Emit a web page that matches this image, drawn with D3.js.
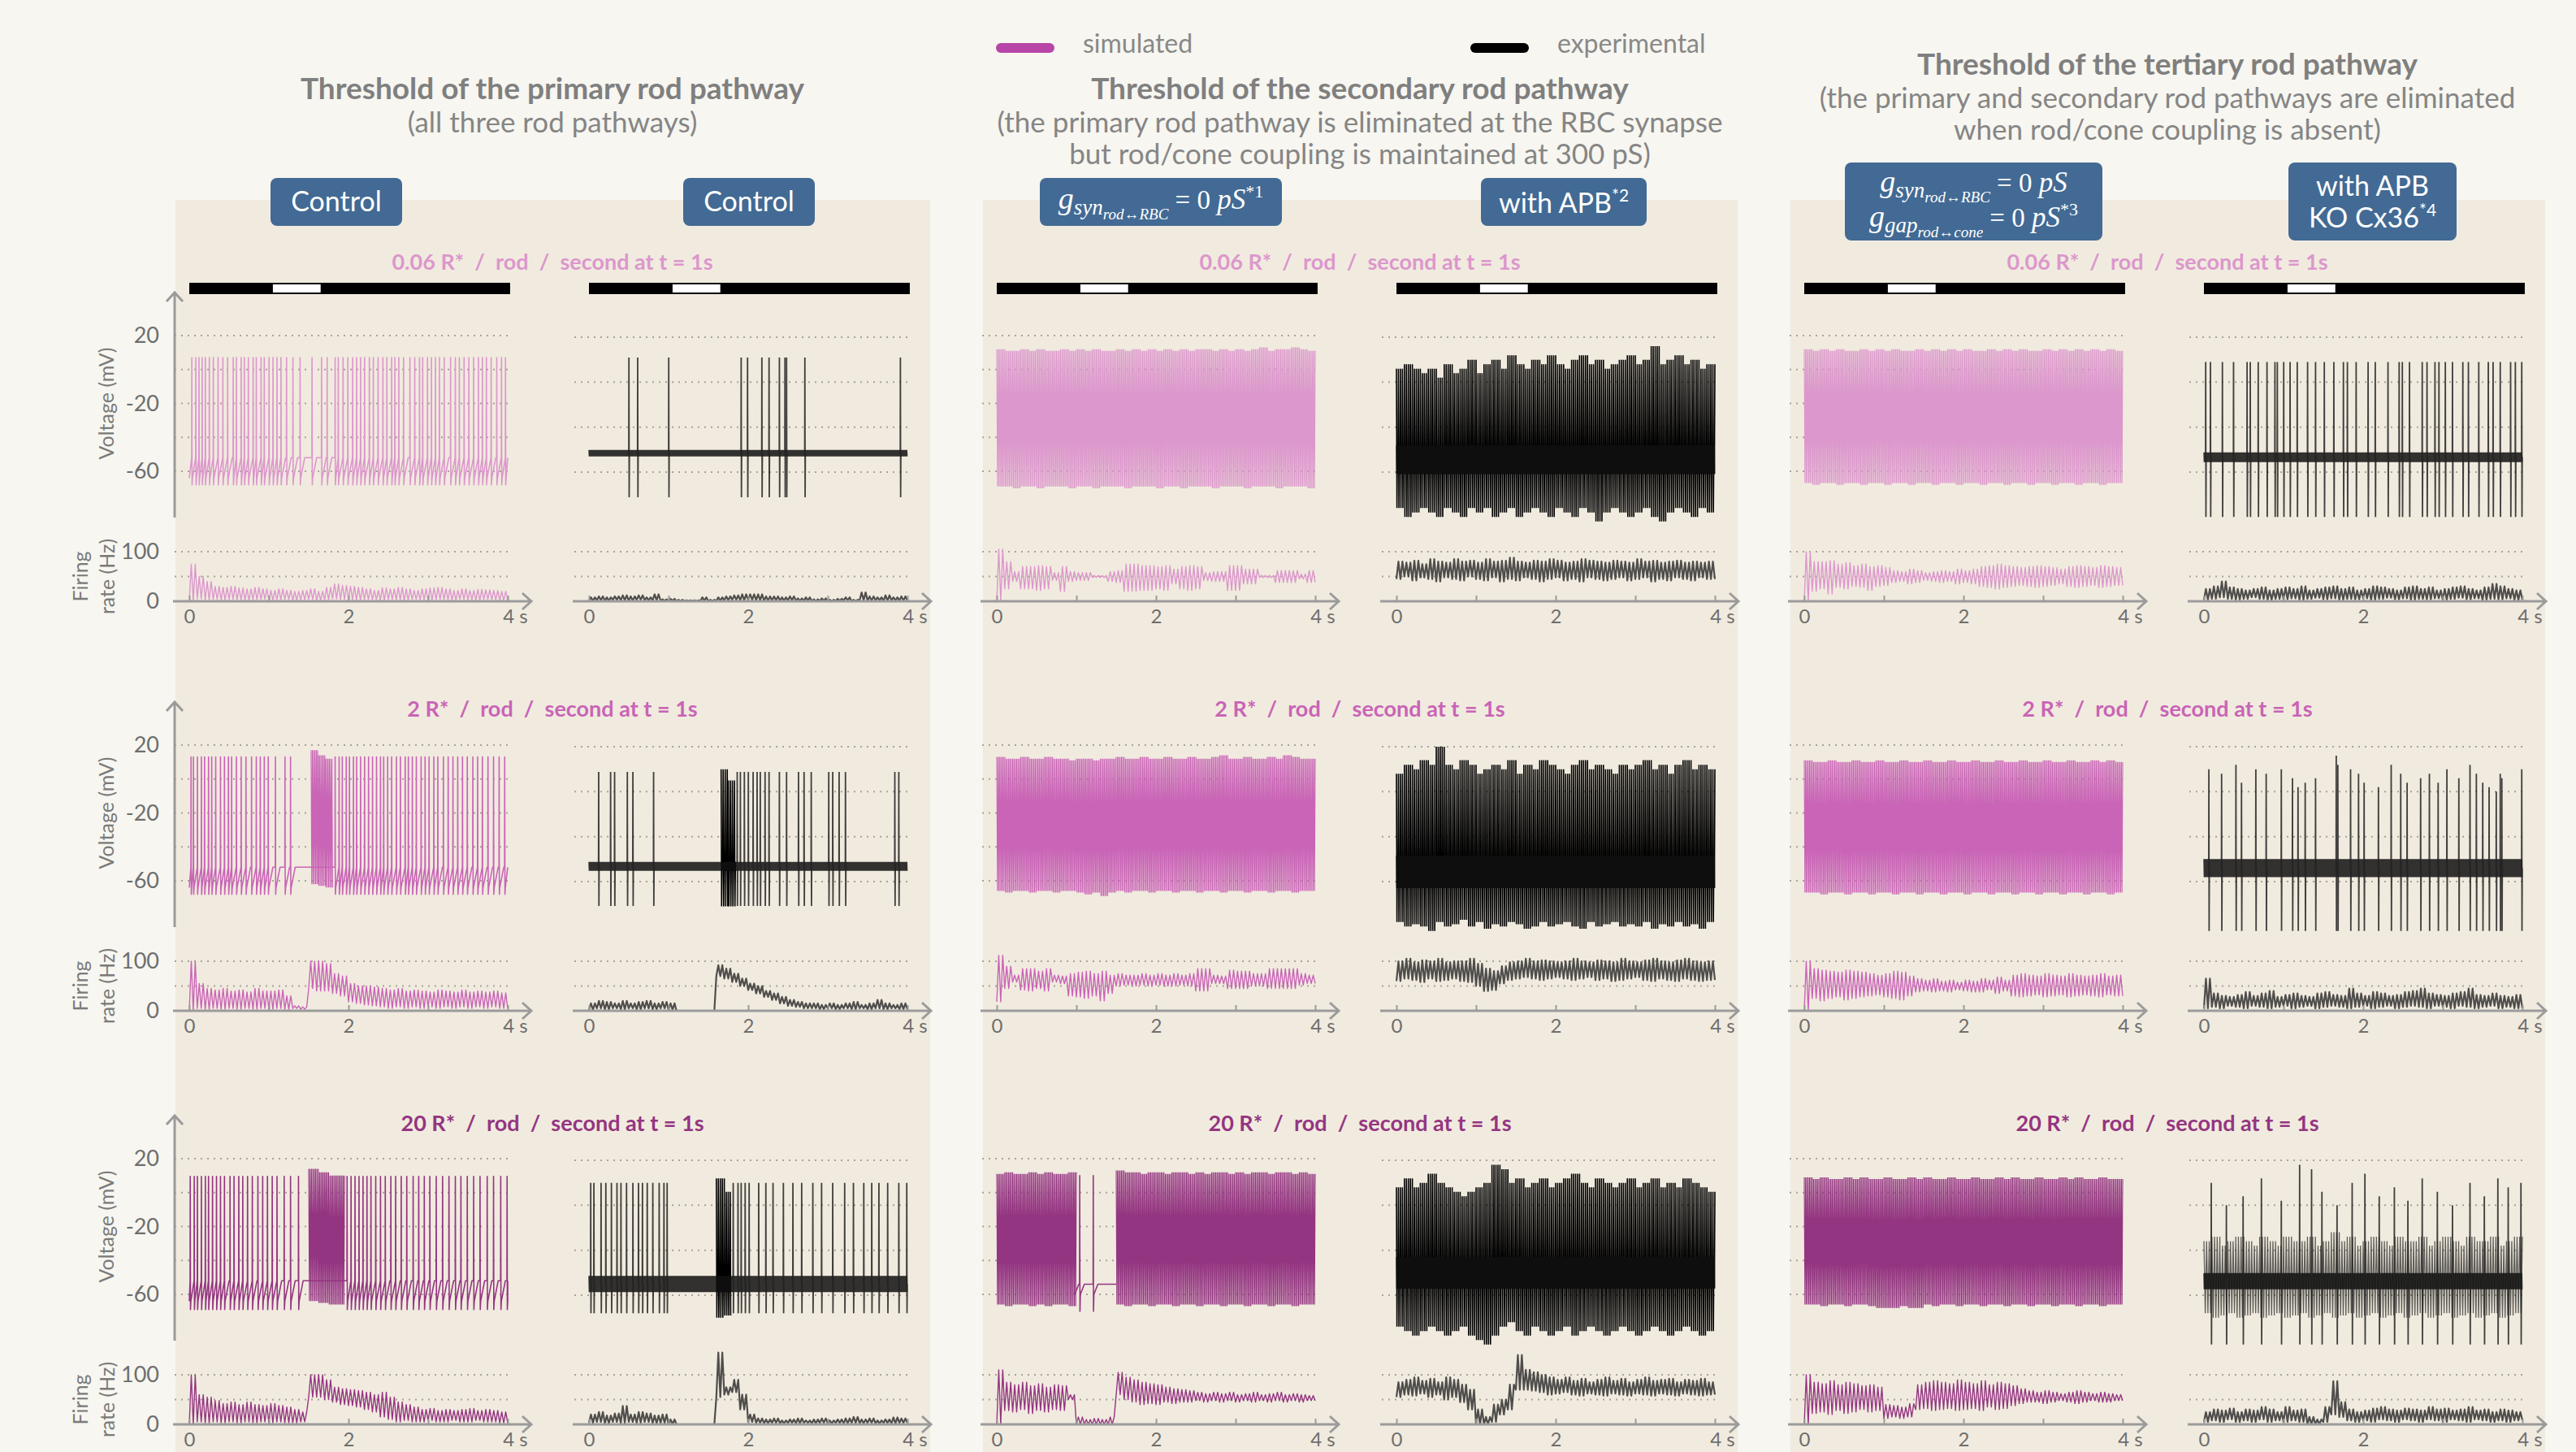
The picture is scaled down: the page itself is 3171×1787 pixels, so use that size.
<!DOCTYPE html>
<html>
<head>
<meta charset="utf-8">
<script src="https://cdn.jsdelivr.net/npm/d3@7"></script>
<style>
  body { margin: 0; background: #f7f6f0; }
  text { font-family: Lato, 'Open Sans', sans-serif; }
</style>
</head>
<body>
<svg id="chart"></svg>
<script>
(function () {
    'use strict';

    const width = 3171;
    const height = 1787;

    // ---------- data ----------
    const titles = ['Threshold of the primary rod pathway', 'Threshold of the secondary rod pathway', 'Threshold of the tertiary rod pathway'];
    const subtitles = [
        ['(all three rod pathways)'],
        ['(the primary rod pathway is eliminated at the RBC synapse', 'but rod/cone coupling is maintained at 300 pS)'],
        ['(the primary and secondary rod pathways are eliminated', 'when rod/cone coupling is absent)']
    ];
    const legendLabels = ['simulated', 'experimental'];
    const rowLabels = ['0.06 R*  /  rod  /  second at t = 1s', '2 R*  /  rod  /  second at t = 1s', '20 R*  /  rod  /  second at t = 1s'];
    const stimulus = [1.05, 1.65];
    const timeTicks = [0, 1, 2, 3, 4];
    const voltTicks = [20, -20, -60];
    const simGrid = [20, 0, -20, -40, -60];
    const expGrid = [3, 2, 1, 0];
    const rateGrid = [100, 50];
    const rateTicks = [100, 0];
    const binStart = d3.range(40).map(i => i / 10);

    // levels: sim = [peak, trough, rest, threshold] (mV); exp = [peak, trough, coreLo, coreHi] (recording units)
    // ---- 0.06 R*/rod/s ----
    const c1r1SimSpikes = [0.03,0.08,0.12,0.16,0.20,0.25,0.30,0.36,0.42,0.48,0.55,0.59,0.65,0.69,0.74,0.80,0.84,0.90,0.94,1.00,1.05,1.10,1.15,1.22,1.30,1.39,1.54,1.66,1.73,1.83,1.87,1.93,1.99,2.05,2.10,2.15,2.20,2.26,2.31,2.37,2.43,2.48,2.54,2.58,2.63,2.69,2.77,2.83,2.89,2.93,2.99,3.04,3.09,3.14,3.20,3.28,3.34,3.39,3.45,3.51,3.57,3.63,3.68,3.73,3.79,3.86,3.92,3.97];
    const c1r1SimLevels = [7, -68, -64, -52];
    const c1r1SimRateHi = [75,50,40,30,28,30,27,25,28,25, 22,25,22,20,22,25,20,28,35,32, 30,28,25,22,27,25,28,25,22,25, 27,28,25,22,25,22,24,23,22,20];
    const c1r1SimRateLo = [0,5,3,4,2,4,3,2,3,4, 2,3,4,2,3,4,2,3,5,4, 3,2,4,3,2,4,3,2,4,3, 2,4,3,2,4,3,2,4,3,2];
    const c1r1ExpSpikes = [0.50,0.61,1.00,1.91,1.99,2.17,2.26,2.39,2.46,2.48,2.71,3.91];
    const c1r1ExpLevels = [2.55, -0.56, 0.35, 0.49];
    const c1r1ExpRateHi = [8,10,8,10,12,10,12,8,14,4, 5,3,2,2,8,3,8,10,12,14, 14,14,10,10,8,10,6,8,4,6, 3,5,8,3,18,10,8,12,8,10];
    const c1r1ExpRateLo = [1,2,1,3,2,1,3,2,2,1, 1,0,0,0,1,0,1,2,3,2, 3,2,1,2,1,2,1,1,0,1, 0,1,2,0,2,1,2,1,2,1];

    const c2r1SimHi = [12,11,11,12,11,12,11,11,12,11, 12,11,12,11,11,12,11,12,11,12, 11,12,11,12,11,12,12,11,12,11, 12,11,12,13,11,12,12,13,12,11];
    const c2r1SimLo = [-69,-69,-70,-69,-69,-70,-69,-69,-69,-70, -69,-69,-70,-69,-69,-69,-70,-69,-69,-69, -70,-69,-69,-70,-69,-69,-69,-70,-69,-69, -69,-70,-69,-69,-69,-70,-69,-69,-69,-70];
    const c2r1SimRateHi = [105,80,60,70,70,72,70,58,70,60, 58,58,52,52,60,62,75,75,72,72, 70,72,65,70,72,70,58,60,60,72, 72,65,65,52,52,62,62,62,55,62];
    const c2r1SimRateLo = [0,25,40,25,25,22,25,42,20,40, 42,42,48,48,40,38,20,20,22,22, 25,22,35,25,22,25,42,40,40,22, 22,35,35,48,48,38,38,38,45,38];
    const c2r1ExpHi = [2.3,2.4,2.3,2.2,2.3,2.1,2.4,2.2,2.3,2.5, 2.2,2.4,2.5,2.3,2.6,2.4,2.3,2.5,2.4,2.6, 2.4,2.3,2.5,2.6,2.4,2.5,2.3,2.4,2.5,2.6, 2.4,2.5,2.8,2.4,2.5,2.6,2.4,2.5,2.3,2.4];
    const c2r1ExpLo = [-0.8,-1.0,-0.9,-0.8,-0.9,-1.0,-0.8,-0.9,-1.0,-0.8, -0.9,-0.8,-1.0,-0.9,-0.8,-1.0,-0.9,-0.8,-0.9,-1.0, -0.8,-0.9,-1.0,-0.8,-0.9,-1.1,-0.9,-0.8,-0.9,-1.0, -0.9,-0.8,-1.0,-1.1,-0.9,-0.8,-0.9,-1.0,-0.8,-0.9];
    const c2r1ExpLevels = [2.4, -0.9, -0.04, 0.6];
    const c2r1ExpRateHi = [80,78,82,75,85,80,78,85,80,82, 78,85,80,82,88,80,78,82,80,85, 82,78,80,85,82,80,78,82,80,78, 85,80,82,78,80,82,78,80,78,80];
    const c2r1ExpRateLo = [45,50,42,48,45,40,48,45,42,50, 45,42,48,40,45,42,48,45,40,45, 48,42,45,40,48,45,42,45,48,42, 45,48,40,45,42,48,45,42,48,45];

    const c3r1SimHi = [12,11,12,11,12,11,11,12,11,12, 11,12,11,11,12,11,12,11,12,11, 12,11,11,12,11,12,11,12,11,11, 12,11,12,11,12,11,12,11,12,11];
    const c3r1SimLo = [-67,-68,-67,-67,-68,-67,-67,-68,-67,-67, -68,-67,-67,-68,-67,-67,-68,-67,-67,-68, -67,-67,-68,-67,-67,-68,-67,-67,-68,-67, -67,-68,-67,-67,-68,-67,-67,-68,-67,-67];
    const c3r1SimRateHi = [100,80,80,82,75,78,72,75,70,72, 68,62,60,65,62,58,60,62,60,65, 62,65,70,72,75,72,70,68,70,72, 70,68,65,70,72,70,68,72,70,68];
    const c3r1SimRateLo = [0,20,25,15,28,25,30,28,22,30, 32,38,40,35,38,42,40,38,40,35, 38,35,30,28,25,28,30,32,30,28, 30,32,35,30,28,30,32,28,30,32];
    const c3r1ExpSpikes = [0.02,0.08,0.23,0.37,0.54,0.58,0.68,0.79,0.89,0.92,1.00,1.08,1.17,1.30,1.40,1.51,1.63,1.75,1.80,1.91,2.06,2.15,2.31,2.45,2.49,2.58,2.74,2.80,2.90,2.95,3.03,3.12,3.25,3.32,3.45,3.57,3.63,3.72,3.85,3.91,3.99];
    const c3r1ExpLevels = [2.45, -1.0, 0.22, 0.44];
    const c3r1ExpRateHi = [25,30,40,28,25,22,25,28,22,25, 28,25,30,22,25,28,30,25,28,22, 25,30,28,25,22,28,30,25,28,22, 25,28,30,25,22,28,35,30,25,22];
    const c3r1ExpRateLo = [3,5,8,5,3,5,8,5,3,5, 4,6,3,5,7,4,6,3,5,4, 6,3,5,7,4,6,3,5,4,6, 3,5,7,4,6,3,5,4,6,3];

    // ---- 2 R*/rod/s ----
    const c1r2SimSpikes = [0.02,0.05,0.10,0.15,0.19,0.24,0.28,0.33,0.39,0.44,0.49,0.53,0.59,0.65,0.71,0.78,0.84,0.89,0.94,0.99,1.08,1.20,1.27,1.83,1.88,1.92,1.97,2.01,2.06,2.10,2.15,2.20,2.25,2.30,2.35,2.40,2.44,2.49,2.54,2.60,2.65,2.71,2.75,2.80,2.85,2.91,2.96,3.01,3.07,3.12,3.19,3.25,3.31,3.37,3.43,3.49,3.56,3.62,3.68,3.75,3.82,3.89,3.96];
    const c1r2SimBurst = [[1.53, 1.62, 17, -62], [1.62, 1.71, 14, -63], [1.71, 1.80, 12, -64]];
    const c1r2SimLevels = [13, -68, -64, -52];
    const c1r2SimRateHi = [100,55,45,42,45,40,42,38,45,40, 40,42,30,10,8,100,100,95,75,70, 55,50,50,48,45,42,45,40,42,40, 38,42,40,38,42,38,40,38,40,36];
    const c1r2SimRateLo = [0,5,3,5,3,5,3,5,3,5, 3,5,3,5,3,45,40,40,35,30, 18,15,12,10,8,5,8,5,8,5, 8,5,8,5,8,5,8,5,8,5];
    const c1r2ExpSpikes = [0.12,0.27,0.32,0.48,0.55,0.81,1.86,1.90,1.95,2.00,2.06,2.11,2.15,2.21,2.26,2.39,2.48,2.63,2.70,2.79,3.01,3.06,3.14,3.22,3.84,3.89];
    const c1r2ExpBurst = [[1.66, 1.75, 2.5, -0.55], [1.75, 1.84, 2.25, -0.55]];
    const c1r2ExpLevels = [2.44, -0.54, 0.24, 0.44];
    const c1r2ExpRateHi = [15,20,18,15,20,15,18,20,15,18, 15,0,0,0,0,0,92,85,75,65, 55,50,40,35,28,22,18,15,15,12, 15,12,15,18,12,15,22,15,12,15];
    const c1r2ExpRateLo = [2,5,3,5,3,5,3,5,3,5, 2,0,0,0,0,0,70,65,58,50, 42,35,28,22,15,10,8,5,5,3, 5,3,5,3,5,3,5,3,5,3];

    const c2r2SimHi = [13,12,12,13,12,12,13,12,12,11, 12,12,11,12,12,13,12,12,13,12, 12,13,12,12,13,12,12,13,14,12, 12,13,12,12,13,12,14,13,12,12];
    const c2r2SimLo = [-66,-67,-66,-66,-67,-66,-66,-67,-66,-66, -67,-68,-67,-69,-67,-66,-67,-66,-66,-67, -66,-66,-67,-66,-66,-67,-66,-66,-67,-66, -66,-67,-66,-66,-67,-66,-66,-67,-66,-66];
    const c2r2SimRateHi = [112,90,72,85,85,80,85,72,70,75, 78,80,75,80,72,75,72,72,75,72, 75,72,75,72,75,85,85,72,70,82, 80,80,75,75,85,85,85,85,75,72];
    const c2r2SimRateLo = [18,45,58,42,40,45,40,58,55,30, 28,25,30,20,35,50,52,50,52,50, 52,50,50,52,50,40,40,55,55,45, 45,45,50,50,45,45,45,45,52,55];
    const c2r2ExpHi = [2.4,2.6,2.5,2.7,2.6,3.0,2.6,2.5,2.7,2.6, 2.4,2.5,2.6,2.5,2.7,2.4,2.6,2.5,2.7,2.6, 2.5,2.4,2.6,2.7,2.5,2.6,2.5,2.4,2.6,2.5, 2.6,2.7,2.5,2.6,2.4,2.6,2.7,2.5,2.6,2.5];
    const c2r2ExpLo = [-0.9,-1.0,-0.95,-1.0,-1.1,-0.9,-1.0,-0.95,-0.85,-1.0, -0.9,-1.05,-0.95,-1.0,-0.9,-0.95,-1.05,-1.0,-0.9,-1.0, -0.95,-0.9,-1.0,-1.05,-0.9,-1.0,-0.95,-0.9,-1.0,-0.95, -1.0,-0.9,-1.05,-0.95,-1.0,-0.9,-1.0,-0.95,-1.05,-0.9];
    const c2r2ExpLevels = [2.5, -1.0, -0.14, 0.58];
    const c2r2ExpRateHi = [100,105,98,102,100,105,98,100,100,105, 95,85,80,90,98,100,105,100,102,100, 98,100,105,100,98,102,100,98,105,100, 98,102,105,100,98,102,105,100,98,100];
    const c2r2ExpRateLo = [60,65,62,58,65,60,62,65,60,58, 50,40,42,55,62,65,68,65,62,65, 68,65,62,65,68,62,65,60,62,65, 68,62,60,65,62,60,65,62,60,62];

    const c3r2SimHi = [11,10,10,11,10,10,11,10,10,11, 10,10,11,10,10,11,10,10,11,10, 10,11,10,10,11,10,10,11,10,10, 11,10,10,11,10,10,11,10,11,10];
    const c3r2SimLo = [-67,-67,-68,-67,-67,-68,-67,-67,-68,-67, -67,-68,-67,-67,-68,-67,-67,-68,-67,-67, -68,-67,-67,-68,-67,-67,-68,-67,-67,-68, -67,-67,-68,-67,-67,-68,-67,-67,-68,-67];
    const c3r2SimRateHi = [100,85,82,80,78,82,80,78,75,72, 75,80,78,70,65,62,65,60,62,58, 62,60,65,62,68,62,72,75,72,70, 75,72,70,75,72,70,72,75,70,72];
    const c3r2SimRateLo = [0,25,20,25,28,22,25,28,30,32, 28,25,22,30,38,40,38,40,38,42, 40,38,38,42,35,40,30,28,30,32, 28,30,32,28,30,32,30,28,32,30];
    const c3r2ExpSpikes = [0.06,0.22,0.40,0.47,0.65,0.78,0.97,1.11,1.18,1.27,1.40,1.66,1.68,1.84,1.94,2.01,2.19,2.35,2.47,2.55,2.72,2.83,2.94,3.05,3.20,3.34,3.42,3.50,3.58,3.67,3.72,3.74,3.99];
    const c3r2ExpPeaks = [2.5,2.4,2.6,2.2,2.5,2.4,2.5,2.3,2.1,2.2,2.3,2.8,2.6,2.5,2.4,2.2,2.1,2.6,2.4,2.2,2.3,2.4,2.2,2.5,2.3,2.6,2.4,2.2,2.1,2.0,2.4,2.3,2.5];
    const c3r2ExpLevels = [2.4, -1.1, 0.1, 0.5];
    const c3r2ExpRateHi = [65,35,30,28,32,38,30,35,40,28, 32,35,30,28,35,38,32,30,45,35, 30,38,35,30,32,38,40,45,35,32, 30,35,38,45,32,30,35,30,28,32];
    const c3r2ExpRateLo = [5,8,5,10,8,5,10,8,5,8, 10,5,8,10,5,8,10,8,5,8, 10,5,8,10,5,8,10,8,5,10, 8,5,10,8,5,8,10,5,8,5];

    // ---- 20 R*/rod/s ----
    const c1r3SimSpikes = [0.01,0.06,0.10,0.15,0.20,0.24,0.29,0.34,0.39,0.44,0.51,0.56,0.62,0.67,0.73,0.79,0.86,0.92,0.98,1.04,1.10,1.19,1.27,1.37,1.98,2.03,2.08,2.13,2.18,2.23,2.28,2.34,2.40,2.46,2.53,2.59,2.66,2.73,2.81,2.88,2.95,3.02,3.10,3.18,3.26,3.34,3.41,3.49,3.57,3.65,3.74,3.82,3.91,3.99];
    const c1r3SimBurst = [[1.50, 1.62, 14, -64], [1.62, 1.75, 12, -65], [1.75, 1.95, 10, -66]];
    const c1r3SimLevels = [9.5, -69, -64, -52];
    const c1r3SimRateHi = [100,60,55,48,42,45,40,45,40,38, 42,38,35,30,25,100,100,90,75,72, 70,68,65,60,65,55,45,40,35,30, 32,28,30,28,30,32,28,30,28,25];
    const c1r3SimRateLo = [0,5,3,5,3,5,3,5,3,5, 3,5,3,3,5,55,55,50,45,40, 38,35,30,25,15,10,5,8,5,5, 8,5,5,8,5,5,8,5,5,3];
    const c1r3ExpSpikes = [0.02,0.06,0.15,0.21,0.28,0.35,0.40,0.47,0.55,0.62,0.67,0.73,0.80,0.88,0.94,0.98,1.81,1.87,1.91,1.96,2.01,2.13,2.22,2.31,2.44,2.56,2.67,2.81,2.92,3.06,3.21,3.32,3.45,3.55,3.64,3.75,3.89,3.99];
    const c1r3ExpBurst = [[1.60, 1.70, 2.6, -0.5], [1.70, 1.78, 2.3, -0.45]];
    const c1r3ExpLevels = [2.5, -0.4, 0.07, 0.43];
    const c1r3ExpRateHi = [20,25,18,22,37,20,25,22,18,20, 10,0,0,0,0,0,145,75,90,60, 20,12,10,12,8,10,12,8,10,12, 8,10,12,15,10,12,8,10,14,12];
    const c1r3ExpRateLo = [3,5,2,5,3,5,3,5,2,3, 0,0,0,0,0,0,55,60,65,30, 5,3,2,3,2,3,2,3,2,3, 2,3,2,3,2,3,2,3,2,3];

    const c2r3SimHi = [11,12,11,11,12,11,12,11,11,12, null,null,null,null,null, 13,12,12,11,12,12,11,12,12,11, 12,11,12,12,11,12,11,12,12,11, 12,12,11,12,11];
    const c2r3SimLo = [-66,-67,-66,-66,-67,-66,-67,-66,-66,-67, null,null,null,null,null, -66,-67,-66,-66,-67,-66,-66,-67,-66,-66, -67,-66,-66,-67,-66,-66,-67,-66,-66,-67, -66,-66,-67,-66,-66];
    const c2r3SimSpikes = [1.04, 1.21];
    const c2r3SimLevels = [10, -70, -60, -54];
    const c2r3SimRateHi = [110,85,80,85,78,82,75,80,78,60, 15,10,12,10,15,105,95,90,85,82, 80,75,72,70,68,65,62,65,62,65, 60,62,65,60,62,65,60,62,60,58];
    const c2r3SimRateLo = [0,28,25,30,22,28,25,30,28,50, 0,0,0,0,0,60,50,45,40,42, 40,45,42,45,45,48,45,48,45,48, 45,48,45,48,45,48,45,48,45,48];
    const c2r3ExpHi = [2.4,2.6,2.4,2.5,2.7,2.5,2.4,2.3,2.2,2.3, 2.4,2.5,2.9,2.8,2.5,2.6,2.4,2.5,2.6,2.4, 2.5,2.6,2.7,2.5,2.4,2.6,2.5,2.4,2.5,2.6, 2.4,2.5,2.6,2.4,2.5,2.4,2.6,2.5,2.4,2.3];
    const c2r3ExpLo = [-0.7,-0.8,-0.9,-0.8,-0.7,-0.8,-0.9,-0.8,-0.7,-0.9, -1.0,-1.1,-0.9,-0.7,-0.6,-0.8,-0.9,-0.7,-0.8,-0.9, -0.8,-0.7,-0.9,-0.8,-0.7,-0.8,-0.9,-0.8,-0.7,-0.8, -0.9,-0.8,-0.7,-0.8,-0.9,-0.8,-0.7,-0.8,-0.9,-0.8];
    const c2r3ExpLevels = [2.5, -0.8, 0.15, 0.85];
    const c2r3ExpRateHi = [85,90,95,88,92,85,95,90,80,70, 30,15,40,50,80,140,110,105,100,95, 90,95,88,92,85,90,95,88,92,85, 90,95,88,90,92,85,90,88,92,85];
    const c2r3ExpRateLo = [55,60,58,62,55,60,50,55,45,30, 0,0,5,20,30,70,70,68,65,60, 62,65,60,58,62,60,58,62,60,58, 62,60,58,62,60,58,62,60,58,60];

    const c3r3SimHi = [9,8,9,8,8,9,8,9,8,8, 9,8,8,9,8,9,8,8,9,8, 8,9,8,8,9,8,9,8,8,9, 8,8,9,8,9,8,8,9,8,8];
    const c3r3SimLo = [-66,-66,-67,-66,-66,-67,-66,-66,-67,-68, -68,-68,-67,-68,-68,-66,-67,-66,-66,-67, -66,-66,-67,-66,-66,-67,-66,-66,-67,-66, -66,-67,-66,-66,-67,-66,-66,-67,-66,-66];
    const c3r3SimRateHi = [100,85,82,88,80,85,82,78,80,75, 40,38,35,42,80,85,88,85,82,90, 85,82,88,80,85,82,78,72,68,65, 68,65,62,65,68,65,62,65,62,60];
    const c3r3SimRateLo = [0,22,25,20,28,22,25,30,25,28, 12,15,12,15,30,32,28,30,32,28, 30,32,28,35,30,32,38,42,45,45, 42,45,48,45,42,45,48,45,45,48];
    const c3r3ExpHi = [1.2,1.3,1.1,1.2,1.3,1.2,1.1,1.3,1.2,1.1, 1.3,1.2,1.2,1.3,1.1,1.2,1.4,1.2,1.3,1.1, 1.2,1.3,1.2,1.1,1.3,1.2,1.2,1.3,1.1,1.2, 1.3,1.2,1.1,1.3,1.2,1.2,1.3,1.1,1.2,1.3];
    const c3r3ExpLo = [-0.4,-0.5,-0.45,-0.4,-0.5,-0.45,-0.4,-0.5,-0.45,-0.4, -0.5,-0.45,-0.4,-0.5,-0.45,-0.4,-0.5,-0.45,-0.4,-0.5, -0.45,-0.4,-0.5,-0.45,-0.4,-0.5,-0.45,-0.4,-0.5,-0.45, -0.4,-0.5,-0.45,-0.4,-0.5,-0.45,-0.4,-0.5,-0.45,-0.4];
    const c3r3ExpSpikes = [0.09,0.28,0.49,0.72,0.97,1.20,1.35,1.48,1.67,1.86,2.02,2.20,2.39,2.56,2.74,2.93,3.12,3.34,3.52,3.69,3.82,3.98];
    const c3r3ExpPeaks = [2.5,2.0,2.2,2.6,2.1,2.9,2.8,2.3,2.0,2.5,2.7,2.2,2.4,2.1,2.6,2.3,2.0,2.5,2.2,2.6,2.4,2.5];
    const c3r3ExpLevels = [2.3, -1.1, 0.13, 0.49];
    const c3r3ExpRateHi = [25,30,28,32,25,30,28,35,30,25, 35,28,30,15,10,35,87,45,30,25, 28,32,35,30,28,32,30,28,35,30, 32,28,30,35,28,30,25,30,28,25];
    const c3r3ExpRateLo = [5,8,5,10,5,8,5,10,5,8, 5,8,5,0,0,5,20,15,8,5, 8,5,10,8,5,10,8,5,10,8, 5,10,8,5,10,8,5,8,5,8];

    // ---------- layout ----------
    const rowTop = [413, 917, 1426];
    const colX = [0, 994, 1988];
    const simColors = ['#dc97cc', '#c964b6', '#943581'];
    const legendSim = '#b845a8';
    const axisGray = '#9b9b9b';

    const bins = (hi, lo) => binStart
        .map((t, i) => [t, t + 0.1, hi[i], lo[i]])
        .filter(d => d[2] !== null);

    const panels = [
        { col: 0, row: 0, side: 'sim', spikes: c1r1SimSpikes, span: [0, 4], levels: c1r1SimLevels, dense: [], rateHi: c1r1SimRateHi, rateLo: c1r1SimRateLo },
        { col: 0, row: 0, side: 'exp', spikes: c1r1ExpSpikes, span: [0, 4], levels: c1r1ExpLevels, dense: [], rateHi: c1r1ExpRateHi, rateLo: c1r1ExpRateLo },
        { col: 1, row: 0, side: 'sim', spikes: [], span: null, levels: null, dense: bins(c2r1SimHi, c2r1SimLo), rateHi: c2r1SimRateHi, rateLo: c2r1SimRateLo },
        { col: 1, row: 0, side: 'exp', spikes: [], span: [0, 4], levels: c2r1ExpLevels, dense: bins(c2r1ExpHi, c2r1ExpLo), rateHi: c2r1ExpRateHi, rateLo: c2r1ExpRateLo },
        { col: 2, row: 0, side: 'sim', spikes: [], span: null, levels: null, dense: bins(c3r1SimHi, c3r1SimLo), rateHi: c3r1SimRateHi, rateLo: c3r1SimRateLo },
        { col: 2, row: 0, side: 'exp', spikes: c3r1ExpSpikes, span: [0, 4], levels: c3r1ExpLevels, dense: [], rateHi: c3r1ExpRateHi, rateLo: c3r1ExpRateLo },

        { col: 0, row: 1, side: 'sim', spikes: c1r2SimSpikes, span: [0, 4], levels: c1r2SimLevels, dense: c1r2SimBurst, rateHi: c1r2SimRateHi, rateLo: c1r2SimRateLo },
        { col: 0, row: 1, side: 'exp', spikes: c1r2ExpSpikes, span: [0, 4], levels: c1r2ExpLevels, dense: c1r2ExpBurst, rateHi: c1r2ExpRateHi, rateLo: c1r2ExpRateLo },
        { col: 1, row: 1, side: 'sim', spikes: [], span: null, levels: null, dense: bins(c2r2SimHi, c2r2SimLo), rateHi: c2r2SimRateHi, rateLo: c2r2SimRateLo },
        { col: 1, row: 1, side: 'exp', spikes: [], span: [0, 4], levels: c2r2ExpLevels, dense: bins(c2r2ExpHi, c2r2ExpLo), rateHi: c2r2ExpRateHi, rateLo: c2r2ExpRateLo },
        { col: 2, row: 1, side: 'sim', spikes: [], span: null, levels: null, dense: bins(c3r2SimHi, c3r2SimLo), rateHi: c3r2SimRateHi, rateLo: c3r2SimRateLo },
        { col: 2, row: 1, side: 'exp', spikes: c3r2ExpSpikes, peaks: c3r2ExpPeaks, span: [0, 4], levels: c3r2ExpLevels, dense: [], rateHi: c3r2ExpRateHi, rateLo: c3r2ExpRateLo },

        { col: 0, row: 2, side: 'sim', spikes: c1r3SimSpikes, span: [0, 4], levels: c1r3SimLevels, dense: c1r3SimBurst, rateHi: c1r3SimRateHi, rateLo: c1r3SimRateLo },
        { col: 0, row: 2, side: 'exp', spikes: c1r3ExpSpikes, span: [0, 4], levels: c1r3ExpLevels, dense: c1r3ExpBurst, rateHi: c1r3ExpRateHi, rateLo: c1r3ExpRateLo },
        { col: 1, row: 2, side: 'sim', spikes: c2r3SimSpikes, span: [0.98, 1.5], levels: c2r3SimLevels, dense: bins(c2r3SimHi, c2r3SimLo), rateHi: c2r3SimRateHi, rateLo: c2r3SimRateLo },
        { col: 1, row: 2, side: 'exp', spikes: [], span: [0, 4], levels: c2r3ExpLevels, dense: bins(c2r3ExpHi, c2r3ExpLo), rateHi: c2r3ExpRateHi, rateLo: c2r3ExpRateLo },
        { col: 2, row: 2, side: 'sim', spikes: [], span: null, levels: null, dense: bins(c3r3SimHi, c3r3SimLo), rateHi: c3r3SimRateHi, rateLo: c3r3SimRateLo },
        { col: 2, row: 2, side: 'exp', spikes: c3r3ExpSpikes, peaks: c3r3ExpPeaks, span: [0, 4], levels: c3r3ExpLevels, dense: bins(c3r3ExpHi, c3r3ExpLo), rateHi: c3r3ExpRateHi, rateLo: c3r3ExpRateLo, sparseDense: true }
    ];

    const svg = d3.select('#chart')
        .attr('width', width)
        .attr('height', height)
        .attr('viewBox', [0, 0, width, height])
        .style('background', '#f7f6f0');

    // column backgrounds
    svg.append('g').selectAll('rect')
        .data(colX)
        .join('rect')
        .attr('x', d => 216 + d)
        .attr('y', 246)
        .attr('width', 929)
        .attr('height', height - 246)
        .attr('fill', '#f1ebdf');

    // titles
    const titleY = [122, 122, 92];
    titles.forEach((t, c) => {
        const cx = 233 + colX[c] + 447;
        svg.append('text')
            .attr('x', cx).attr('y', titleY[c])
            .attr('text-anchor', 'middle')
            .attr('font-size', 37).attr('font-weight', 700)
            .attr('fill', '#7f7f7f')
            .text(t);
        subtitles[c].forEach((s, i) => {
            svg.append('text')
                .attr('x', cx).attr('y', titleY[c] + 41 + i * 39)
                .attr('text-anchor', 'middle')
                .attr('font-size', 35)
                .attr('fill', '#858585')
                .text(s);
        });
    });

    // legend
    const legendX = [1226, 1810];
    legendLabels.forEach((lab, i) => {
        svg.append('line')
            .attr('x1', legendX[i] + 6).attr('x2', legendX[i] + 66)
            .attr('y1', 59).attr('y2', 59)
            .attr('stroke', i === 0 ? legendSim : '#000')
            .attr('stroke-width', 12)
            .attr('stroke-linecap', 'round');
        svg.append('text')
            .attr('x', legendX[i] + 107).attr('y', 65)
            .attr('font-size', 32)
            .attr('fill', '#888')
            .text(lab);
    });

    // condition boxes
    const boxes = [
        { x: 333, y: 219, w: 162, h: 59 },
        { x: 841, y: 219, w: 162, h: 59 },
        { x: 1280, y: 219, w: 298, h: 59 },
        { x: 1823, y: 219, w: 204, h: 59 },
        { x: 2271, y: 200, w: 317, h: 96 },
        { x: 2817, y: 200, w: 207, h: 96 }
    ];
    svg.append('g').selectAll('rect')
        .data(boxes)
        .join('rect')
        .attr('x', d => d.x).attr('y', d => d.y)
        .attr('width', d => d.w).attr('height', d => d.h)
        .attr('rx', 8)
        .attr('fill', '#426a94');

    const boxText = (b, y, parts) => {
        const t = svg.append('text')
            .attr('x', b.x + b.w / 2).attr('y', y)
            .attr('text-anchor', 'middle')
            .attr('fill', '#fff');
        parts.forEach(p => {
            t.append('tspan')
                .attr('dy', p.dy || 0)
                .attr('font-size', p.size)
                .attr('font-style', p.italic ? 'italic' : 'normal')
                .attr('font-family', p.serif ? "'Liberation Serif', 'DejaVu Serif', serif" : null)
                .text(p.text);
        });
    };
    const synParts = [
        { text: 'g', size: 38, italic: true, serif: true },
        { text: 'syn', size: 27, italic: true, serif: true, dy: 7 },
        { text: 'rod\u2194RBC', size: 19, italic: true, serif: true, dy: 6 },
        { text: ' = 0 ', size: 33, serif: true, dy: -13 },
        { text: 'pS', size: 35, italic: true, serif: true }
    ];
    const gapParts = [
        { text: 'g', size: 38, italic: true, serif: true },
        { text: 'gap', size: 27, italic: true, serif: true, dy: 7 },
        { text: 'rod\u2194cone', size: 19, italic: true, serif: true, dy: 6 },
        { text: ' = 0 ', size: 33, serif: true, dy: -13 },
        { text: 'pS', size: 35, italic: true, serif: true },
        { text: '*3', size: 22, serif: true, dy: -14 }
    ];
    boxText(boxes[0], 260, [{ text: 'Control', size: 34 }]);
    boxText(boxes[1], 260, [{ text: 'Control', size: 34 }]);
    boxText(boxes[2], 257, synParts.concat([{ text: '*1', size: 22, serif: true, dy: -14 }]));
    boxText(boxes[3], 262, [{ text: 'with APB', size: 34 }, { text: '*2', size: 21, dy: -14 }]);
    boxText(boxes[4], 236, synParts);
    boxText(boxes[5], 241, [{ text: 'with APB', size: 34 }]);
    boxText(boxes[4], 279, gapParts);
    boxText(boxes[5], 280, [{ text: 'KO Cx36', size: 34 }, { text: '*4', size: 21, dy: -14 }]);

    // row labels
    const rowLabelDy = [-81, -35, -34];
    rowLabels.forEach((lab, r) => {
        colX.forEach(cx => {
            svg.append('text')
                .attr('x', 233 + cx + 447)
                .attr('y', rowTop[r] + rowLabelDy[r])
                .attr('text-anchor', 'middle')
                .attr('font-size', 27).attr('font-weight', 700)
                .style('white-space', 'pre')
                .attr('fill', simColors[r])
                .text(lab);
        });
    });

    // ---------- panels ----------
    const zigzag = (segs, k) => {
        const pts = [];
        let prevEnd = null;
        segs.forEach(([t0, t1, hi, lo]) => {
            if (prevEnd !== null && Math.abs(t0 - prevEnd) > 1e-6) pts.push(null);
            const n = Math.max(2, Math.round((t1 - t0) * 10 * k));
            for (let s = 0; s <= n; s++) pts.push([t0 + (t1 - t0) * s / n, s % 2 ? lo : hi]);
            prevEnd = t1;
        });
        return pts;
    };

    // experimental bursts: full spikes alternate with core-sized deflections
    const expZigzag = (segs, k, coreLo, coreHi) => {
        const pts = [];
        let prevEnd = null;
        segs.forEach(([t0, t1, hi, lo]) => {
            if (prevEnd !== null && Math.abs(t0 - prevEnd) > 1e-6) pts.push(null);
            const n = Math.max(4, Math.round((t1 - t0) * 10 * k));
            const seq = [hi, lo, coreHi, coreLo];
            for (let s = 0; s <= n; s++) pts.push([t0 + (t1 - t0) * s / n, seq[s % 4]]);
            prevEnd = t1;
        });
        return pts;
    };

    const ratePoints = (hi, lo) => {
        const pts = [];
        binStart.forEach((t, i) => {
            pts.push([t, lo[i]], [t + 0.025, hi[i]], [t + 0.05, lo[i]], [t + 0.075, hi[i]]);
        });
        pts.push([4, lo[lo.length - 1]]);
        return pts;
    };

    const dotted = sel => sel
        .attr('stroke', '#a8a398')
        .attr('stroke-width', 2)
        .attr('stroke-dasharray', '2 6');

    panels.forEach(p => {
        const rt = rowTop[p.row];
        const x0 = (p.side === 'sim' ? 233 : 725) + colX[p.col];
        const x = d3.scaleLinear().domain([0, 4]).range([x0, x0 + 392]);
        const yV = p.side === 'sim'
            ? d3.scaleLinear().domain([-60, 20]).range([rt + 167, rt])
            : d3.scaleLinear().domain([0, 3]).range([rt + 168, rt + 2]);
        const yR = d3.scaleLinear().domain([0, 100]).range([rt + 327, rt + 266]);
        const line = d3.line().defined(d => d !== null).x(d => x(d[0])).y(d => yV(d[1]));
        const rateLine = d3.line().x(d => x(d[0])).y(d => yR(d[1]));
        const color = p.side === 'sim' ? simColors[p.row] : '#111';
        const g = svg.append('g');

        // grid
        g.append('g').selectAll('line')
            .data(p.side === 'sim' ? simGrid : expGrid)
            .join('line')
            .attr('x1', x0 - 18).attr('x2', x0 + 395)
            .attr('y1', d => yV(d)).attr('y2', d => yV(d))
            .call(dotted);
        g.append('g').selectAll('line')
            .data(rateGrid)
            .join('line')
            .attr('x1', x0 - 18).attr('x2', x0 + 395)
            .attr('y1', d => yR(d)).attr('y2', d => yR(d))
            .call(dotted);

        // stimulus bar
        if (p.row === 0) {
            g.append('rect')
                .attr('x', x(0)).attr('y', rt - 65)
                .attr('width', x(4.03) - x(0)).attr('height', 14)
                .attr('fill', '#000');
            g.append('rect')
                .attr('x', x(stimulus[0])).attr('y', rt - 63)
                .attr('width', x(stimulus[1]) - x(stimulus[0])).attr('height', 10)
                .attr('fill', '#fff');
        }

        // voltage trace
        if (p.side === 'sim') {
            if (p.dense.length) {
                g.append('path')
                    .attr('d', line(zigzag(p.dense, 12)))
                    .attr('fill', 'none').attr('stroke', color).attr('stroke-width', 1.1);
            }
            if (p.spikes.length) {
                const [peak, trough, rest, thresh] = p.levels;
                const pts = [[p.span[0], rest], [Math.min(p.span[0] + 0.05, p.spikes[0]), thresh]];
                p.spikes.forEach((t, i) => {
                    const next = i + 1 < p.spikes.length ? p.spikes[i + 1] : p.span[1];
                    pts.push([t, thresh], [t + 0.002, peak], [t + 0.005, trough], [t + 0.01, rest]);
                    pts.push([t + 0.01 + Math.min(next - t - 0.01, 0.05), thresh]);
                });
                pts.push([p.span[1], thresh]);
                g.append('path')
                    .attr('d', line(pts))
                    .attr('fill', 'none').attr('stroke', color).attr('stroke-width', 1.6)
                    .attr('stroke-linejoin', 'round');
            }
        } else {
            const [peak, trough, coreLo, coreHi] = p.levels;
            if (p.dense.length) {
                g.append('path')
                    .attr('d', line(p.sparseDense ? zigzag(p.dense, 6) : expZigzag(p.dense, 16, coreLo, coreHi)))
                    .attr('fill', 'none').attr('stroke', '#000').attr('stroke-width', p.sparseDense ? 1.3 : 1.6)
                    .attr('stroke-opacity', p.sparseDense ? 0.6 : 1);
            }
            const core = d3.range(p.span[0], p.span[1], 0.004).map((t, i) => [t, i % 2 ? coreLo : coreHi]);
            g.append('path')
                .attr('d', line(core))
                .attr('fill', 'none').attr('stroke', '#111').attr('stroke-width', 1.5)
                .attr('stroke-opacity', 0.85);
            g.append('g').selectAll('path')
                .data(p.spikes)
                .join('path')
                .attr('d', (t, i) => line([[t, (coreLo + coreHi) / 2], [t + 0.002, p.peaks ? p.peaks[i] : peak], [t + 0.005, trough], [t + 0.008, (coreLo + coreHi) / 2]]))
                .attr('fill', 'none').attr('stroke', '#222').attr('stroke-width', 1.8)
                .attr('stroke-opacity', 0.85);
        }

        // firing rate
        g.append('path')
            .attr('d', rateLine(ratePoints(p.rateHi, p.rateLo)))
            .attr('fill', 'none')
            .attr('stroke', p.side === 'sim' ? color : '#333')
            .attr('stroke-width', p.side === 'sim' ? 1.4 : 2.2)
            .attr('stroke-opacity', p.side === 'sim' ? 1 : 0.85)
            .attr('stroke-linejoin', 'round');

        // time axis
        const ax = g.append('g')
            .attr('transform', `translate(0,${yR(0)})`)
            .call(d3.axisBottom(x)
                .tickValues(timeTicks)
                .tickSizeInner(-7).tickSizeOuter(0).tickPadding(10)
                .tickFormat(d => (d === 1 || d === 3) ? '' : d === 4 ? '4 s' : String(d)));
        ax.select('.domain').remove();
        ax.selectAll('.tick line').attr('stroke', axisGray).attr('stroke-width', 2);
        ax.selectAll('.tick text')
            .attr('font-size', 24).attr('fill', '#6e6e6e')
            .attr('font-family', 'Lato, sans-serif')
            .style('white-space', 'pre')
            .attr('dx', d => d === 4 ? 9 : 0);
        const ay = yR(0);
        const xe = x0 + 421;
        g.append('path')
            .attr('d', `M${x0 - 20},${ay}H${xe}M${xe - 11},${ay - 10}L${xe},${ay}L${xe - 11},${ay + 10}`)
            .attr('fill', 'none').attr('stroke', axisGray).attr('stroke-width', 3);

        // voltage and rate axes, first panel of each row only
        if (p.col === 0 && p.side === 'sim') {
            const vx = x0 - 18;
            g.append('path')
                .attr('d', `M${vx},${rt + 224}V${rt - 53}M${vx - 10},${rt - 42}L${vx},${rt - 53}L${vx + 10},${rt - 42}`)
                .attr('fill', 'none').attr('stroke', axisGray).attr('stroke-width', 3);
            const vAx = g.append('g')
                .attr('transform', `translate(${vx},0)`)
                .call(d3.axisLeft(yV).tickValues(voltTicks).tickSize(0).tickPadding(19).tickFormat(d => String(d)));
            const rAx = g.append('g')
                .attr('transform', `translate(${vx},0)`)
                .call(d3.axisLeft(yR).tickValues(rateTicks).tickSize(0).tickPadding(19).tickFormat(d => String(d)));
            [vAx, rAx].forEach(a => {
                a.select('.domain').remove();
                a.selectAll('text')
                    .attr('font-size', 27).attr('fill', '#6e6e6e')
                    .attr('font-family', 'Lato, sans-serif');
            });
            g.append('text')
                .attr('transform', `translate(${x0 - 93},${yV(-20)}) rotate(-90)`)
                .attr('text-anchor', 'middle')
                .attr('font-size', 25).attr('fill', '#7a7a7a')
                .text('Voltage (mV)');
            g.append('text')
                .attr('transform', `translate(${x0 - 125},${yR(50)}) rotate(-90)`)
                .attr('text-anchor', 'middle')
                .attr('font-size', 25).attr('fill', '#7a7a7a')
                .text('Firing');
            g.append('text')
                .attr('transform', `translate(${x0 - 92},${yR(50)}) rotate(-90)`)
                .attr('text-anchor', 'middle')
                .attr('font-size', 25).attr('fill', '#7a7a7a')
                .text('rate (Hz)');
        }
    });
})();
</script>
</body>
</html>
